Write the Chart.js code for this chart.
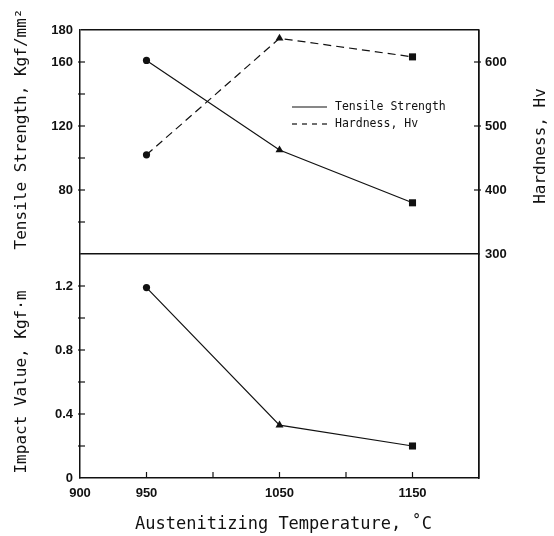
<!DOCTYPE html>
<html>
<head>
<meta charset="utf-8">
<script src="https://cdn.jsdelivr.net/npm/chart.js@4/dist/chart.umd.min.js"></script>
<style>
html,body{margin:0;padding:0;background:#fff;}
#wrap{position:relative;width:554px;height:536px;}
</style>
</head>
<body>
<div id="wrap"><canvas id="c" width="554" height="536"></canvas></div>
<script>
// ---- data ----
const temps = [950, 1050, 1150];
const tensile = [161, 105, 72];          // Kgf/mm2 (left, top panel)
const hardness = [455, 637, 608];        // Hv (right, top panel)
const impact = [1.19, 0.33, 0.2];        // Kgf·m (left, bottom panel)
const markerStyles = ['circle', 'triangle', 'rect'];
const markerSizes = [3.6, 4.6, 5];
// tick positions and labelled ticks
const xTicks = [900, 950, 1000, 1050, 1100, 1150, 1200];
const xTickLabels = [900, 950, 1050, 1150];
const tensileTicks = [40, 60, 80, 100, 120, 140, 160, 180];
const tensileTickLabels = [80, 120, 160, 180];
const hardnessTicks = [300, 400, 500, 600, 650];
const hardnessTickLabels = [300, 400, 500, 600];
const impactTicks = [0, 0.2, 0.4, 0.6, 0.8, 1.0, 1.2, 1.4];
const impactTickLabels = ['0', '0.4', '0.8', '1.2'];
const legendLabels = ['Tensile Strength', 'Hardness, Hv'];
const titles = {
  x: 'Austenitizing Temperature, \u02DAC',
  tensile: 'Tensile Strength, Kgf/mm\u00B2',
  hardness: 'Hardness, Hv',
  impact: 'Impact Value, Kgf\u00B7m'
};

const INK = '#111';
const tickFont = {family: 'Liberation Sans', size: 13, weight: 'bold'};
const titleFont = '16px "DejaVu Sans Mono"';

function pts(vals) { return temps.map((t, i) => ({x: t, y: vals[i]})); }
function near(a, b) { return Math.abs(a - b) < 1e-6; }
const setTicks = (vals) => (sc) => { sc.ticks = vals.map(v => ({value: v})); };

const ds = (label, vals, axis, dash) => ({
  label, data: pts(vals), yAxisID: axis,
  borderColor: INK, backgroundColor: INK, borderWidth: 1.2,
  borderDash: dash || [], pointStyle: markerStyles, pointRadius: markerSizes,
  pointBorderWidth: 0, tension: 0, fill: false
});

const decor = {
  id: 'decor',
  afterDraw(chart) {
    const ctx = chart.ctx, s = chart.scales, ca = chart.chartArea;
    ctx.save();
    ctx.strokeStyle = INK; ctx.lineWidth = 1.2;
    // tick marks
    const yTick = (sc, xAxis, dir) => sc.ticks.forEach(t => {
      const y = sc.getPixelForValue(t.value);
      if (near(t.value, sc.max) || near(t.value, sc.min)) return;
      ctx.beginPath(); ctx.moveTo(xAxis - 2 * dir, y); ctx.lineTo(xAxis + 5 * dir, y); ctx.stroke();
    });
    yTick(s.yTS, ca.left, 1);
    yTick(s.yIV, ca.left, 1);
    yTick(s.yHV, ca.right, -1);
    s.x.ticks.forEach(t => {
      if (near(t.value, s.x.min) || near(t.value, s.x.max)) return;
      const x = s.x.getPixelForValue(t.value);
      ctx.beginPath(); ctx.moveTo(x, ca.bottom); ctx.lineTo(x, ca.bottom - 6); ctx.stroke();
    });
    // axis titles
    ctx.fillStyle = INK; ctx.font = titleFont;
    ctx.textAlign = 'center'; ctx.textBaseline = 'middle';
    const vText = (txt, x, y) => { ctx.save(); ctx.translate(x, y); ctx.rotate(-Math.PI / 2); ctx.fillText(txt, 0, 0); ctx.restore(); };
    vText(titles.tensile, 22, (s.yTS.top + s.yTS.bottom) / 2 - 13);
    vText(titles.impact, 22, (s.yIV.top + s.yIV.bottom) / 2 + 16);
    vText(titles.hardness, 541, (s.yHV.top + s.yHV.bottom) / 2 + 4);
    ctx.font = '17px "DejaVu Sans Mono"';
    ctx.fillText(titles.x, (ca.left + ca.right) / 2 + 4, 525);
    // legend
    ctx.font = '11.5px "DejaVu Sans Mono"'; ctx.textAlign = 'left';
    const lx = ca.left + 212, ly = ca.top + 77;
    legendLabels.forEach((lab, i) => {
      const y = ly + i * 17;
      ctx.setLineDash(i === 0 ? [] : [5, 5]);
      ctx.beginPath(); ctx.moveTo(lx, y); ctx.lineTo(lx + 35, y); ctx.stroke();
      ctx.setLineDash([]);
      ctx.fillText(lab, lx + 43, y);
    });
    ctx.restore();
  }
};

const lineColor = (vals) => (c) => (c.tick && vals.some(v => near(v, c.tick.value)) ? INK : 'rgba(0,0,0,0)');

new Chart(document.getElementById('c'), {
  type: 'line',
  data: {
    datasets: [
      ds('Tensile Strength', tensile, 'yTS'),
      ds('Hardness, Hv', hardness, 'yHV', [8, 5]),
      ds('Impact Value', impact, 'yIV')
    ]
  },
  options: {
    responsive: false, animation: false, devicePixelRatio: 1,
    layout: {padding: {top: 30, left: 0, right: 0, bottom: 0}},
    plugins: {legend: {display: false}, tooltip: {enabled: false}},
    scales: {
      x: {
        type: 'linear', min: 900, max: 1200, position: 'bottom',
        afterBuildTicks: setTicks(xTicks),
        afterFit: (sc) => { sc.height = 58; },
        border: {display: true, color: INK, width: 1.5},
        grid: {drawTicks: false, lineWidth: 1.5, color: lineColor([1200])},
        ticks: {autoSkip: false, padding: 8, color: INK, font: tickFont, maxRotation: 0,
          callback: (v) => xTickLabels.includes(v) ? String(v) : ''}
      },
      yIV: {
        type: 'linear', position: 'left', stack: 'left', stackWeight: 1,
        min: 0, max: 1.4,
        afterBuildTicks: setTicks(impactTicks),
        afterFit: (sc) => { sc.width = 80; },
        border: {display: true, color: INK, width: 1.5},
        grid: {drawTicks: false, lineWidth: 1.5, color: lineColor([])},
        ticks: {autoSkip: false, padding: 7, color: INK, font: tickFont,
          callback: (v) => { const s = (Math.round(v * 10) / 10).toString(); return impactTickLabels.includes(s) ? s : ''; }}
      },
      yTS: {
        type: 'linear', position: 'left', stack: 'left', stackWeight: 1,
        min: 40, max: 180,
        afterBuildTicks: setTicks(tensileTicks),
        afterFit: (sc) => { sc.width = 80; },
        border: {display: true, color: INK, width: 1.5},
        grid: {drawTicks: false, lineWidth: 1.5, color: lineColor([40, 180])},
        ticks: {autoSkip: false, padding: 7, color: INK, font: tickFont,
          callback: (v) => tensileTickLabels.includes(v) ? String(v) : ''}
      },
      yHV: {
        type: 'linear', position: 'right', stack: 'right', stackWeight: 1,
        min: 300, max: 650,
        afterBuildTicks: setTicks(hardnessTicks),
        afterFit: (sc) => { sc.width = 75; },
        border: {display: true, color: INK, width: 1.5},
        grid: {drawTicks: false, drawOnChartArea: false},
        ticks: {autoSkip: false, padding: 6, color: INK, font: tickFont,
          callback: (v) => hardnessTickLabels.includes(v) ? String(v) : ''}
      },
      yR2: {
        type: 'linear', position: 'right', stack: 'right', stackWeight: 1,
        min: 0, max: 1,
        afterFit: (sc) => { sc.width = 75; },
        border: {display: true, color: INK, width: 1.5},
        grid: {drawTicks: false, drawOnChartArea: false},
        ticks: {display: false}
      }
    }
  },
  plugins: [decor]
});
</script>
</body>
</html>
